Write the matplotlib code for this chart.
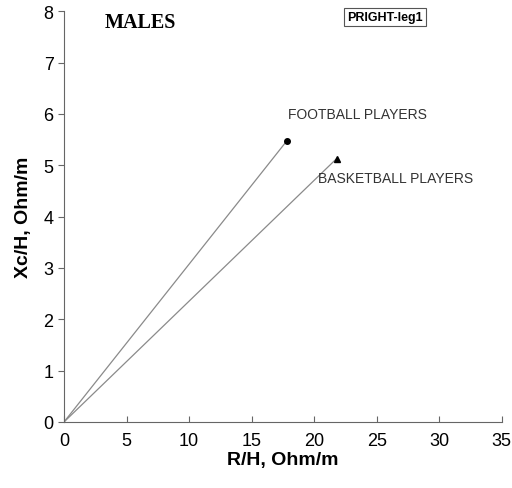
import matplotlib
matplotlib.use('Agg')
import matplotlib.pyplot as plt

# vector endpoints (mean R/H, Xc/H)
groups = ["FOOTBALL PLAYERS", "BASKETBALL PLAYERS"]
r_h = [17.8, 21.8]
xc_h = [5.47, 5.13]
markers = ["o", "^"]

plt.rcParams['font.family'] = ['Liberation Sans', 'DejaVu Sans']

fig = plt.figure(figsize=(5.12, 4.89), dpi=100)
ax = fig.add_axes([0.125, 0.135, 0.855, 0.84])

for x, y, m in zip(r_h, xc_h, markers):
    ax.plot([0, x], [0, y], color='#8a8a8a', lw=0.9)
    ax.plot(x, y, marker=m, color='black', ms=4, ls='none')

ax.text(17.9, 5.92, groups[0], fontsize=10, color='#333333')
ax.text(20.3, 4.68, groups[1], fontsize=10, color='#333333')

ax.set_xlim(0, 35)
ax.set_ylim(0, 8)
ax.set_xticks(range(0, 36, 5))
ax.set_yticks(range(0, 9))
ax.spines['top'].set_visible(False)
ax.spines['right'].set_visible(False)
for s in ['left', 'bottom']:
    ax.spines[s].set_color('#666666')
ax.tick_params(axis='x', direction='in', length=4, color='#666666', labelsize=13, pad=7)
ax.tick_params(axis='y', direction='out', length=4, color='#666666', labelsize=13)
ax.set_xlabel("R/H, Ohm/m", fontsize=14, fontweight='bold', labelpad=2)
ax.set_ylabel("Xc/H, Ohm/m", fontsize=14, fontweight='bold', labelpad=8)

fig.text(0.205, 0.953, "MALES", fontsize=14.5, fontweight='bold',
         family=['Liberation Serif', 'DejaVu Serif'], va='center')
fig.text(0.752, 0.963, "PRIGHT-leg1", fontsize=9, fontweight='bold', ha='center', va='center',
         bbox=dict(boxstyle='square,pad=0.25', fc='white', ec='#555555', lw=0.8))

fig.savefig("out.png", dpi=100)
